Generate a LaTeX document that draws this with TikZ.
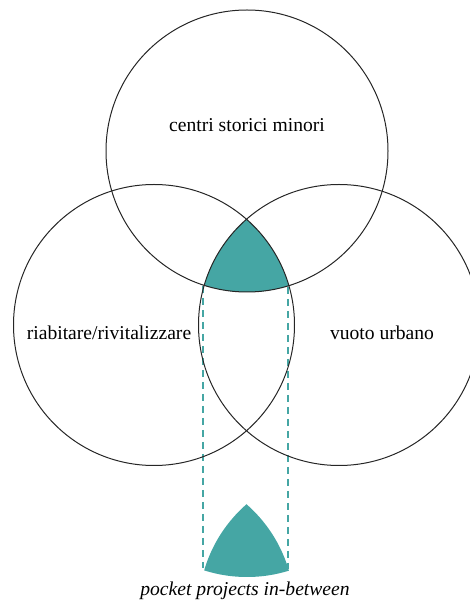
\documentclass[tikz,border=0pt]{standalone}
\usepackage{fontspec}
\setmainfont{Liberation Serif}
\usepackage{tikz}
\usetikzlibrary{positioning, calc}
\definecolor{pocketteal}{RGB}{69,166,164}

\begin{document}
\begin{tikzpicture}[x=0.5pt, y=0.5pt,
		ring/.style={draw=black!85, line width=0.5pt},
		lbl/.style={font=\fontsize{9.8}{11}\selectfont},
		guide/.style={draw=pocketteal, line width=1.4pt, dash pattern=on 3.5pt off 2.5pt}]
			\clip (0,0) rectangle (470,600);
			\useasboundingbox (0,0) rectangle (470,600);
			\coordinate (top) at (247,449);
			\coordinate (left) at (154,275);
			\coordinate (right) at (339,275);
			% shared area
			\begin{scope}
				\clip (top) circle[radius=70.5pt];
				\clip (left) circle[radius=70.25pt];
				\fill[pocketteal] (right) circle[radius=70.25pt];
			\end{scope}
			% copy below
			\begin{scope}
				\clip ([yshift=-142.5pt]top) circle[radius=70.5pt];
				\clip ([yshift=-142.5pt]left) circle[radius=70.25pt];
				\fill[pocketteal] ([yshift=-142.5pt]right) circle[radius=70.25pt];
			\end{scope}
			\coordinate (a) at (203,314);
			\coordinate (b) at (288,313);
			\coordinate (c) at (203,32);
			\coordinate (d) at (288,31);
			\draw[guide] (a) -- (c);
			\draw[guide] (b) -- (d);
			\draw[ring] (top) circle[radius=70.5pt];
			\draw[ring] (left) circle[radius=70.25pt];
			\draw[ring] (right) circle[radius=70.25pt];
			\node[lbl] (centri) at (247,475) {centri storici minori};
			\node[lbl] (riab) at (109,267) {riabitare/rivitalizzare};
			\node[lbl] (vuoto) at (382,267) {vuoto urbano};
			\node[lbl, font=\fontsize{9.8}{11}\selectfont\itshape] (pocket) at (245,9) {pocket projects in-between};
		\end{tikzpicture}
\end{document}
